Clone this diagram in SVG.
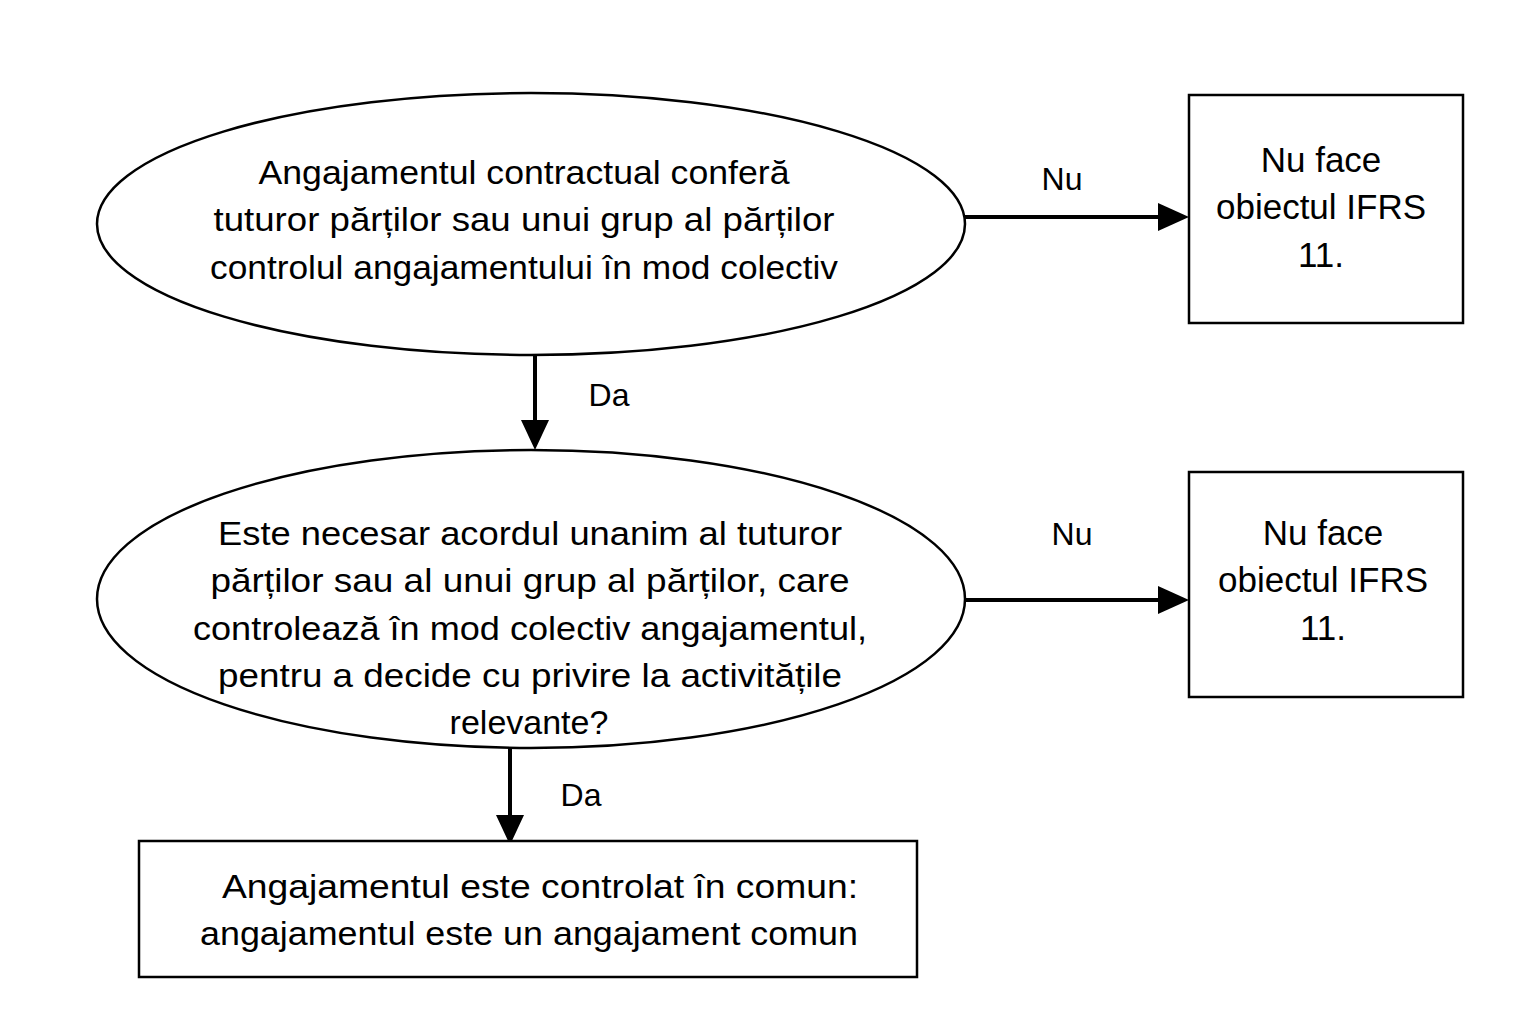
<svg xmlns="http://www.w3.org/2000/svg" width="1540" height="1019" viewBox="0 0 1540 1019">
<defs>
<style>
.shape{fill:#fff;stroke:#000;stroke-width:2.5}
.conn{stroke:#000;stroke-width:4;fill:none}
text{font-family:"Liberation Sans",Arial,sans-serif;font-size:34px;fill:#000;text-anchor:middle}
text.lbl{font-size:32px}
text.bx{font-size:35px}
</style>
</defs>
<rect width="1540" height="1019" fill="#fff"/>
<g id="connectors">
<line class="conn" x1="965" y1="217" x2="1160" y2="217"/>
<path d="M1189,217 L1158,203 L1158,231 Z" fill="#000"/>
<line class="conn" x1="535" y1="355" x2="535" y2="425"/>
<path d="M535,450 L521,420 L549,420 Z" fill="#000"/>
<line class="conn" x1="965" y1="600" x2="1160" y2="600"/>
<path d="M1189,600 L1158,586 L1158,614 Z" fill="#000"/>
<line class="conn" x1="510" y1="748" x2="510" y2="820"/>
<path d="M510,845 L496,815 L524,815 Z" fill="#000"/>
<text class="lbl" x="1062" y="190">Nu</text>
<text class="lbl" x="609" y="406">Da</text>
<text class="lbl" x="1072" y="545">Nu</text>
<text class="lbl" x="581" y="806">Da</text>
</g>
<g id="q1">
<ellipse class="shape" cx="531" cy="224" rx="434" ry="131"/>
<text x="524" y="184" textLength="531" lengthAdjust="spacingAndGlyphs">Angajamentul contractual conferă</text>
<text x="524" y="231" textLength="621" lengthAdjust="spacingAndGlyphs">tuturor părților sau unui grup al părților</text>
<text x="524" y="279" textLength="628" lengthAdjust="spacingAndGlyphs">controlul angajamentului în mod colectiv</text>
</g>
<g id="out1">
<rect class="shape" x="1189" y="95" width="274" height="228"/>
<text class="bx" x="1321" y="172">Nu face</text>
<text class="bx" x="1321" y="219">obiectul IFRS</text>
<text class="bx" x="1321" y="267">11.</text>
</g>
<g id="q2">
<ellipse class="shape" cx="531" cy="599" rx="434" ry="149"/>
<text x="530" y="545" textLength="624" lengthAdjust="spacingAndGlyphs">Este necesar acordul unanim al tuturor</text>
<text x="530" y="592" textLength="639" lengthAdjust="spacingAndGlyphs">părților sau al unui grup al părților, care</text>
<text x="530" y="640" textLength="674" lengthAdjust="spacingAndGlyphs">controlează în mod colectiv angajamentul,</text>
<text x="530" y="687" textLength="624" lengthAdjust="spacingAndGlyphs">pentru a decide cu privire la activitățile</text>
<text x="529" y="734">relevante?</text>
</g>
<g id="out2">
<rect class="shape" x="1189" y="472" width="274" height="225"/>
<text class="bx" x="1323" y="545">Nu face</text>
<text class="bx" x="1323" y="592">obiectul IFRS</text>
<text class="bx" x="1323" y="640">11.</text>
</g>
<g id="result">
<rect class="shape" x="139" y="841" width="778" height="136"/>
<text x="540" y="898" textLength="636" lengthAdjust="spacingAndGlyphs">Angajamentul este controlat în comun:</text>
<text x="529" y="945" textLength="658" lengthAdjust="spacingAndGlyphs">angajamentul este un angajament comun</text>
</g>
</svg>
